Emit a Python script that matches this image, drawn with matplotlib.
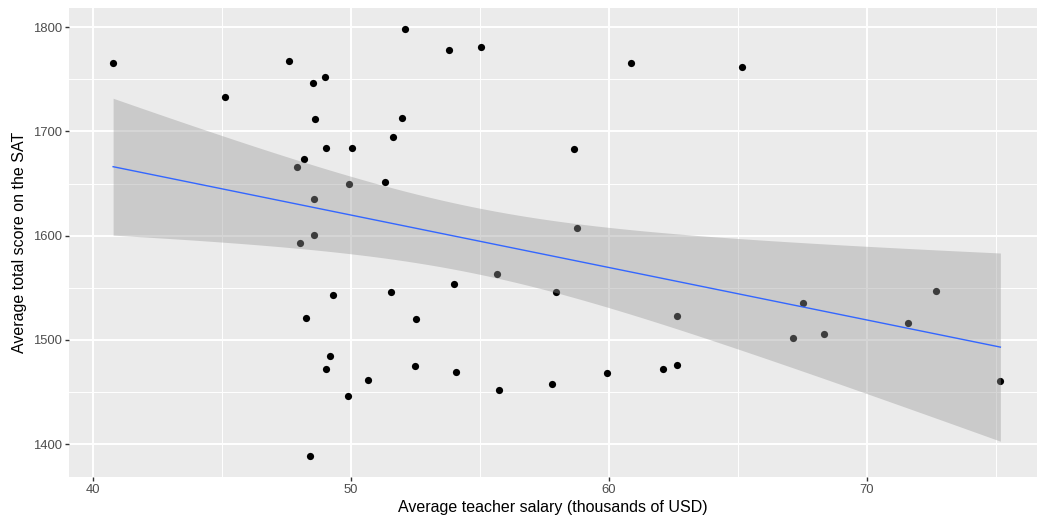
import numpy as np
import matplotlib.pyplot as plt
from matplotlib.ticker import MultipleLocator

# Average teacher salary (thousands of USD) and average SAT total score per state
salary = [40.78, 45.10, 47.59, 48.54, 48.99, 48.60, 52.09, 53.81, 55.04, 60.84,
          65.16, 52.00, 51.64, 49.03, 50.06, 48.18, 47.92, 51.34, 49.93, 48.57,
          58.63, 48.57, 48.03, 58.75, 55.65, 54.00, 49.29, 51.54, 57.96, 48.26,
          52.51, 62.64, 67.53, 72.69, 71.59, 68.36, 67.14, 49.19, 49.04, 52.47,
          54.08, 62.09, 62.65, 59.91, 57.80, 55.75, 50.66, 49.87, 48.41, 75.18]
sat = [1766.0, 1732.8, 1767.9, 1746.3, 1752.0, 1712.0, 1798.1, 1777.9, 1781.1, 1766.0,
       1761.9, 1713.0, 1695.0, 1683.9, 1683.9, 1673.9, 1665.9, 1651.5, 1649.9, 1635.5,
       1682.9, 1600.7, 1592.7, 1607.7, 1563.5, 1553.6, 1543.4, 1545.7, 1545.7, 1521.3,
       1520.3, 1523.2, 1535.4, 1546.6, 1516.5, 1505.7, 1501.5, 1484.3, 1472.4, 1475.2,
       1469.2, 1472.4, 1476.2, 1468.2, 1457.4, 1452.2, 1461.2, 1446.2, 1388.3, 1460.6]

x = np.array(salary)
y = np.array(sat)

# linear fit with 95% confidence band (like geom_smooth(method = "lm"))
n = len(x)
slope, intercept = np.polyfit(x, y, 1)
resid = y - (intercept + slope * x)
s = np.sqrt(np.sum(resid ** 2) / (n - 2))
t975 = 2.0106  # t quantile, df = 48
xs = np.linspace(x.min(), x.max(), 80)
fit = intercept + slope * xs
se = s * np.sqrt(1 / n + (xs - x.mean()) ** 2 / np.sum((x - x.mean()) ** 2))

plt.rcParams['font.family'] = ['Liberation Sans', 'DejaVu Sans']

fig = plt.figure(figsize=(10.43, 5.18), dpi=100)
ax = fig.add_axes([69 / 1043, 1 - 477 / 518, (1037 - 69) / 1043, (477 - 8) / 518])
ax.set_facecolor('#EBEBEB')
for sp in ax.spines.values():
    sp.set_visible(False)

ax.scatter(x, y, s=27, color='black', linewidths=0, zorder=3)
ax.fill_between(xs, fit - t975 * se, fit + t975 * se, color='#999999', alpha=0.4,
                linewidth=0, zorder=4)
ax.plot(xs, fit, color='#3366FF', linewidth=1.0, zorder=5)

ax.set_xlim(39.07, 76.6)
ax.set_ylim(1368.4, 1818.5)
ax.xaxis.set_major_locator(MultipleLocator(10))
ax.xaxis.set_minor_locator(MultipleLocator(5))
ax.yaxis.set_major_locator(MultipleLocator(100))
ax.yaxis.set_minor_locator(MultipleLocator(50))
ax.grid(which='major', color='white', linewidth=1.4, zorder=1)
ax.grid(which='minor', color='white', linewidth=0.7, zorder=1)
ax.set_axisbelow(True)
ax.tick_params(which='major', length=3, width=1, color='#333333',
               labelsize=9.4, labelcolor='#4D4D4D', pad=2)
ax.tick_params(which='minor', length=0)

ax.set_xlabel('Average teacher salary (thousands of USD)', fontsize=11.5, labelpad=3)
ax.set_ylabel('Average total score on the SAT', fontsize=11.5, labelpad=4)

fig.savefig('out.png', dpi=100)
